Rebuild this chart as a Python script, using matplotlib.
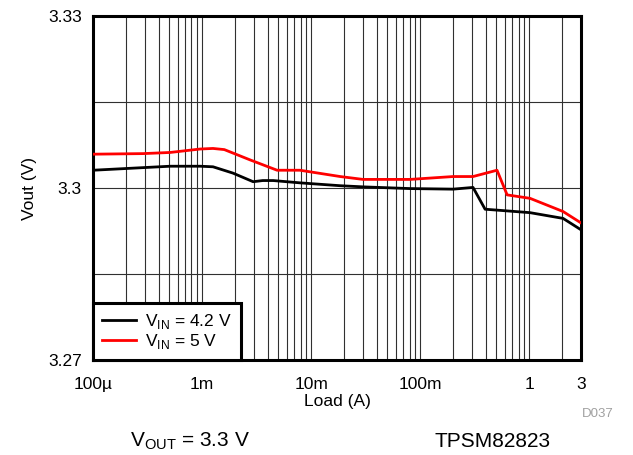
#!/usr/bin/env python3
"""Output voltage vs load current for the TPSM82823."""

import matplotlib

matplotlib.use("Agg")
import matplotlib.pyplot as plt
from matplotlib.ticker import FixedLocator, FixedFormatter, LogLocator, NullFormatter

plt.rcParams["font.family"] = ["Liberation Sans", "DejaVu Sans"]

# V_IN = 4.2 V
load_42 = [1e-4, 5.1e-4, 9.6e-4, 1.26e-3, 1.92e-3, 2.94e-3, 3.6e-3, 4.5e-3,
           7.9e-3, 1.85e-2, 3.0e-2, 8.1e-2, 0.201, 0.306, 0.395, 1.02, 2.05, 3.0]
vout_42 = [3.3031, 3.3038, 3.3038, 3.3037, 3.3026, 3.3011, 3.3013, 3.3013,
           3.3009, 3.3004, 3.3002, 3.2999, 3.2998, 3.3001, 3.2963, 3.2957,
           3.2947, 3.2927]

# V_IN = 5 V
load_5 = [1e-4, 2.88e-4, 5.1e-4, 9.6e-4, 1.26e-3, 1.6e-3, 2.76e-3, 4.88e-3,
          7.9e-3, 1.85e-2, 3.0e-2, 8.1e-2, 0.201, 0.306, 0.508, 0.629, 1.02,
          2.05, 3.0]
vout_5 = [3.3059, 3.3060, 3.3062, 3.3068, 3.3069, 3.3067, 3.3049, 3.3031,
          3.3031, 3.3020, 3.3015, 3.3015, 3.3020, 3.3020, 3.3031, 3.2988,
          3.2982, 3.2959, 3.2939]

x_ticks = [1e-4, 1e-3, 1e-2, 1e-1, 1, 3]
x_labels = ["100µ", "1m", "10m", "100m", "1", "3"]
y_ticks = [3.27, 3.30, 3.33]
y_labels = ["3.27", "3.3", "3.33"]
y_grid = [3.285, 3.315]


def main() -> None:
    fig = plt.figure(figsize=(6.33, 4.55), dpi=100)
    ax = fig.add_axes([0.147, 0.2088, 0.771, 0.756])

    ax.plot(load_42, vout_42, color="black", linewidth=2, label="V$_{\\mathregular{IN}}$ = 4.2 V", zorder=3)
    ax.plot(load_5, vout_5, color="#ff0000", linewidth=2, label="V$_{\\mathregular{IN}}$ = 5 V", zorder=3)

    ax.set_xscale("log")
    ax.set_xlim(1e-4, 3)
    ax.set_ylim(3.27, 3.33)

    ax.xaxis.set_major_locator(FixedLocator(x_ticks))
    ax.xaxis.set_major_formatter(FixedFormatter(x_labels))
    ax.xaxis.set_minor_locator(LogLocator(base=10, subs=range(2, 10), numticks=20))
    ax.xaxis.set_minor_formatter(NullFormatter())
    ax.yaxis.set_major_locator(FixedLocator(y_ticks))
    ax.yaxis.set_major_formatter(FixedFormatter(y_labels))
    ax.yaxis.set_minor_locator(FixedLocator(y_grid))

    ax.grid(True, which="both", color="#303030", linewidth=0.8)
    ax.tick_params(which="both", length=0, labelsize=12.5)
    ax.tick_params(axis="x", pad=12)
    ax.tick_params(axis="y", pad=8)

    for spine in ax.spines.values():
        spine.set_linewidth(2.2)
        spine.set_color("black")

    ax.set_xlabel("Load (A)", fontsize=12.5, labelpad=2)
    ax.set_ylabel("Vout (V)", fontsize=12.5, labelpad=8)

    leg = ax.legend(loc="lower left", fontsize=12.5, fancybox=False, framealpha=1,
                    borderaxespad=0, handlelength=1.95, handletextpad=0.55,
                    borderpad=0.5, labelspacing=0.1)
    leg.get_frame().set_edgecolor("black")
    leg.get_frame().set_linewidth(2.2)
    leg.set_zorder(5)

    fig.text(0.970, 0.083, "D037", fontsize=9.5, color="#a0a0a0", ha="right")
    fig.text(0.205, 0.018, "V$_{\\mathregular{OUT}}$ = 3.3 V", fontsize=15)
    fig.text(0.687, 0.018, "TPSM82823", fontsize=15)

    fig.savefig("out.png", dpi=100)
    plt.close(fig)


if __name__ == "__main__":
    main()
